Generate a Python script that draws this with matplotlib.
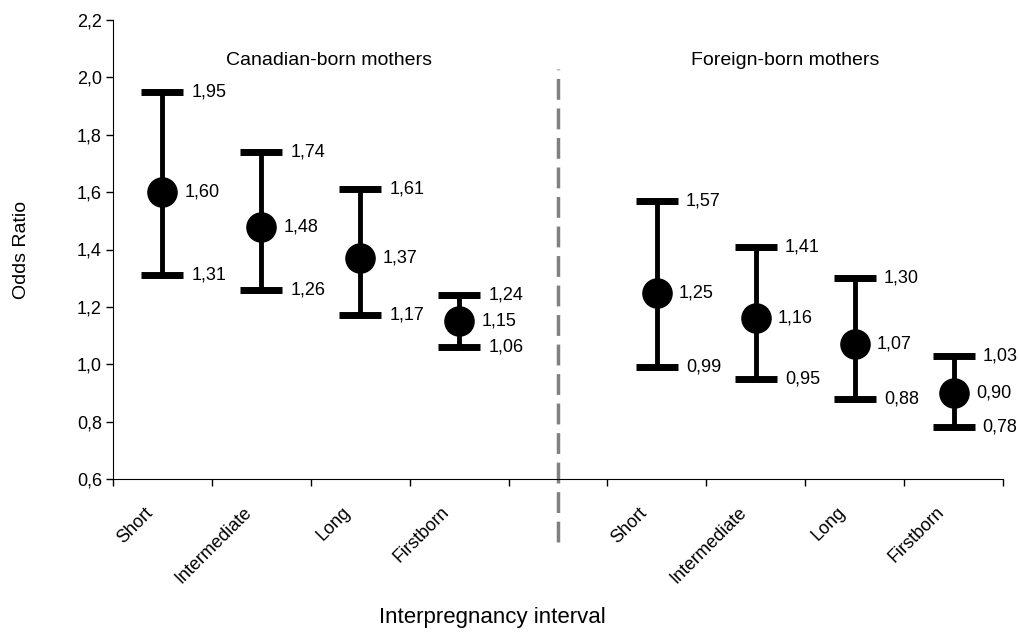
#!/usr/bin/env python3
# Odds ratios with 95% CI by interpregnancy interval, Canadian- vs foreign-born mothers
import matplotlib
matplotlib.use("Agg")
import matplotlib.pyplot as plt
import matplotlib.transforms as mtransforms

plt.rcParams["font.family"] = ["Liberation Sans", "DejaVu Sans"]

# Data
categories = ["Short", "Intermediate", "Long", "Firstborn", "",
              "Short", "Intermediate", "Long", "Firstborn"]
canadian_or = [1.60, 1.48, 1.37, 1.15]
canadian_low = [1.31, 1.26, 1.17, 1.06]
canadian_high = [1.95, 1.74, 1.61, 1.24]
foreign_or = [1.25, 1.16, 1.07, 0.90]
foreign_low = [0.99, 0.95, 0.88, 0.78]
foreign_high = [1.57, 1.41, 1.30, 1.03]
group_titles = ["Canadian-born mothers", "Foreign-born mothers"]
y_ticks = [0.6, 0.8, 1.0, 1.2, 1.4, 1.6, 1.8, 2.0, 2.2]


def fmt(v):
    return f"{v:.2f}".replace(".", ",")


W, H = 1019, 632
fig = plt.figure(figsize=(W / 100, H / 100), dpi=100)
ax = fig.add_axes([113 / W, (H - 479) / H, (1003 - 113) / W, (479 - 20) / H])

groups = [
    ([1, 2, 3, 4], canadian_or, canadian_low, canadian_high),
    ([6, 7, 8, 9], foreign_or, foreign_low, foreign_high),
]
for xs, mid, lo, hi in groups:
    err = [[m - l for m, l in zip(mid, lo)], [h - m for m, h in zip(mid, hi)]]
    ax.errorbar(xs, mid, yerr=err, fmt="o", color="black", ms=21,
                elinewidth=3.5, capsize=15, capthick=5, zorder=3)
    for x, m, l, h in zip(xs, mid, lo, hi):
        ax.annotate(fmt(m), (x, m), xytext=(16, 0), textcoords="offset points",
                    ha="left", va="center", fontsize=13)
        ax.annotate(fmt(h), (x, h), xytext=(21, 0), textcoords="offset points",
                    ha="left", va="center", fontsize=13)
        ax.annotate(fmt(l), (x, l), xytext=(21, 0), textcoords="offset points",
                    ha="left", va="center", fontsize=13)

# Dashed separator between the two groups
ax.plot([5, 5], [0.38, 2.03], color="#808080", lw=2.5, ls=(0, (6, 2.5)),
        clip_on=False, zorder=1)

ax.text(2.68, 2.06, group_titles[0], ha="center", va="center", fontsize=14)
ax.text(7.3, 2.06, group_titles[1], ha="center", va="center", fontsize=14)

ax.set_xlim(0.5, 9.5)
ax.set_ylim(0.6, 2.2)
ax.set_yticks(y_ticks)
ax.set_yticklabels([f"{t:.1f}".replace(".", ",") for t in y_ticks], fontsize=13)
ax.tick_params(axis="y", length=5, width=1, pad=3)

# Major ticks between categories, labels on minor ticks at centers
ax.set_xticks([i + 0.5 for i in range(0, 10)])
ax.set_xticklabels([])
ax.tick_params(axis="x", which="major", length=5, width=1)
ax.set_xticks(range(1, 10), minor=True)
ax.set_xticklabels(categories, minor=True, rotation=45, ha="right", va="top",
                   fontsize=13)
ax.tick_params(axis="x", which="minor", length=0, pad=18)
shift = mtransforms.ScaledTranslation(-6 / 100, 0, fig.dpi_scale_trans)
for lab in ax.get_xticklabels(minor=True):
    lab.set_transform(lab.get_transform() + shift)

for side in ["top", "right"]:
    ax.spines[side].set_visible(False)

fig.text(22 / W, 1 - 250 / H, "Odds Ratio", rotation=90, ha="center",
         va="center", fontsize=14)
fig.text(492 / W, 1 - 618 / H, "Interpregnancy interval", ha="center",
         va="center", fontsize=16)

fig.savefig("out.png", dpi=100)
